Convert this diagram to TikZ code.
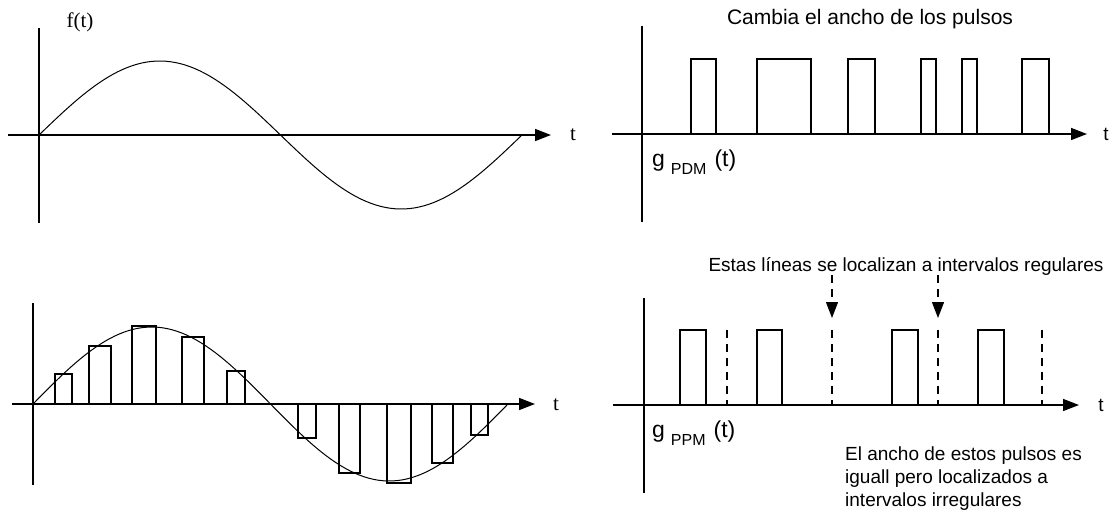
\documentclass[tikz,border=0pt]{standalone}
\usepackage{fontspec}
\newfontfamily\arialfont{Liberation Sans}
\newfontfamily\timesfont{Liberation Serif}
\usetikzlibrary{arrows.meta, calc}

\begin{document}
\begin{tikzpicture}[x=1pt, y=-1pt,
  axis/.style={line width=1.6pt, -{Triangle[length=16pt, width=12pt]}},
  yaxis/.style={line width=1.6pt},
  wave/.style={line width=1pt},
  pulse/.style={line width=1.5pt},
  slot/.style={line width=1.3pt, dash pattern=on 8pt off 6pt},
  slotarrow/.style={slot, -{Triangle[length=16pt, width=12pt]}},
  sanslbl/.style={font=\arialfont\fontsize{19}{23}\selectfont, inner sep=0pt},
  seriflbl/.style={font=\timesfont\fontsize{21}{24}\selectfont, inner sep=0pt}]
  \useasboundingbox[fill=white] (0,0) rectangle (1112,515);

  % f(t)
  \draw[yaxis] (39,28) -- (39,223);
  \draw[axis] (8,135) -- (551,135);
  \draw[wave] plot[domain=0:360, samples=100] ({39+1.341667*\x}, {135-74*sin(\x)});
  \node[seriflbl] (ft) at (80,22) {f(t)};
  \node[seriflbl] (t1) at (573,135) {t};

  % sampled f(t)
  \draw[yaxis] (33,303) -- (33,485);
  \draw[axis] (12,404) -- (535,404);
  \draw[wave] plot[domain=0:360, samples=100] ({33+1.319444*\x}, {404-77*sin(\x)});
  \foreach \a/\b/\h in {55/72/374, 89/111/346, 132/156/326, 182/204/337, 227/245/371,
                        298/316/438, 339/360/473, 387/411/483, 432/453/463, 471/488/435}
    \draw[pulse] (\a,404) -- (\a,\h) -- (\b,\h) -- (\b,404);
  \node[seriflbl] (t2) at (556,405) {t};

  % PDM
  \draw[yaxis] (642,26) -- (642,222);
  \draw[axis] (612,134) -- (1087,134);
  \foreach \a/\b in {691/716, 757/811, 848/875, 921/936, 962/977, 1022/1049}
    \draw[pulse] (\a,134) -- (\a,59) -- (\b,59) -- (\b,134);
  \node[font=\arialfont\fontsize{21}{25}\selectfont, inner sep=0pt, anchor=base] (pdmtxt) at (870,24) {Cambia el ancho de los pulsos};
  \node[font=\arialfont, inner sep=0pt, anchor=base west] (gpdm) at (652,166)
    {\fontsize{23}{23}\selectfont g\hspace{6pt}\raisebox{-8pt}{\fontsize{16}{16}\selectfont PDM}\hspace{8pt}(t)};
  \node[sanslbl] (t3) at (1106,134) {t};

  % PPM
  \draw[yaxis] (644,298) -- (644,493);
  \draw[axis] (613,405) -- (1079,405);
  \foreach \a/\b in {680/706, 757/782, 892/918, 978/1004}
    \draw[pulse] (\a,405) -- (\a,330) -- (\b,330) -- (\b,405);
  \foreach \x in {727, 832, 938, 1042}
    \draw[slot] (\x,330) -- (\x,405);
  \coordinate (s2) at (832,318);
  \coordinate (s3) at (938,318);
  \node[sanslbl, anchor=base] (regtxt) at (906,271) {Estas líneas se localizan a intervalos regulares};
  \draw[slotarrow] (regtxt.south -| s2) -- (s2);
  \draw[slotarrow] (regtxt.south -| s3) -- (s3);
  \node[font=\arialfont, inner sep=0pt, anchor=base west] (gppm) at (652,437)
    {\fontsize{23}{23}\selectfont g\hspace{6pt}\raisebox{-8pt}{\fontsize{16}{16}\selectfont PPM}\hspace{8pt}(t)};
  \node[sanslbl, anchor=north west, align=left] (note) at (845,447)
    {El ancho de estos pulsos es\\iguall pero localizados a\\intervalos irregulares};
  \node[sanslbl] (t4) at (1101,405) {t};
\end{tikzpicture}
\end{document}
